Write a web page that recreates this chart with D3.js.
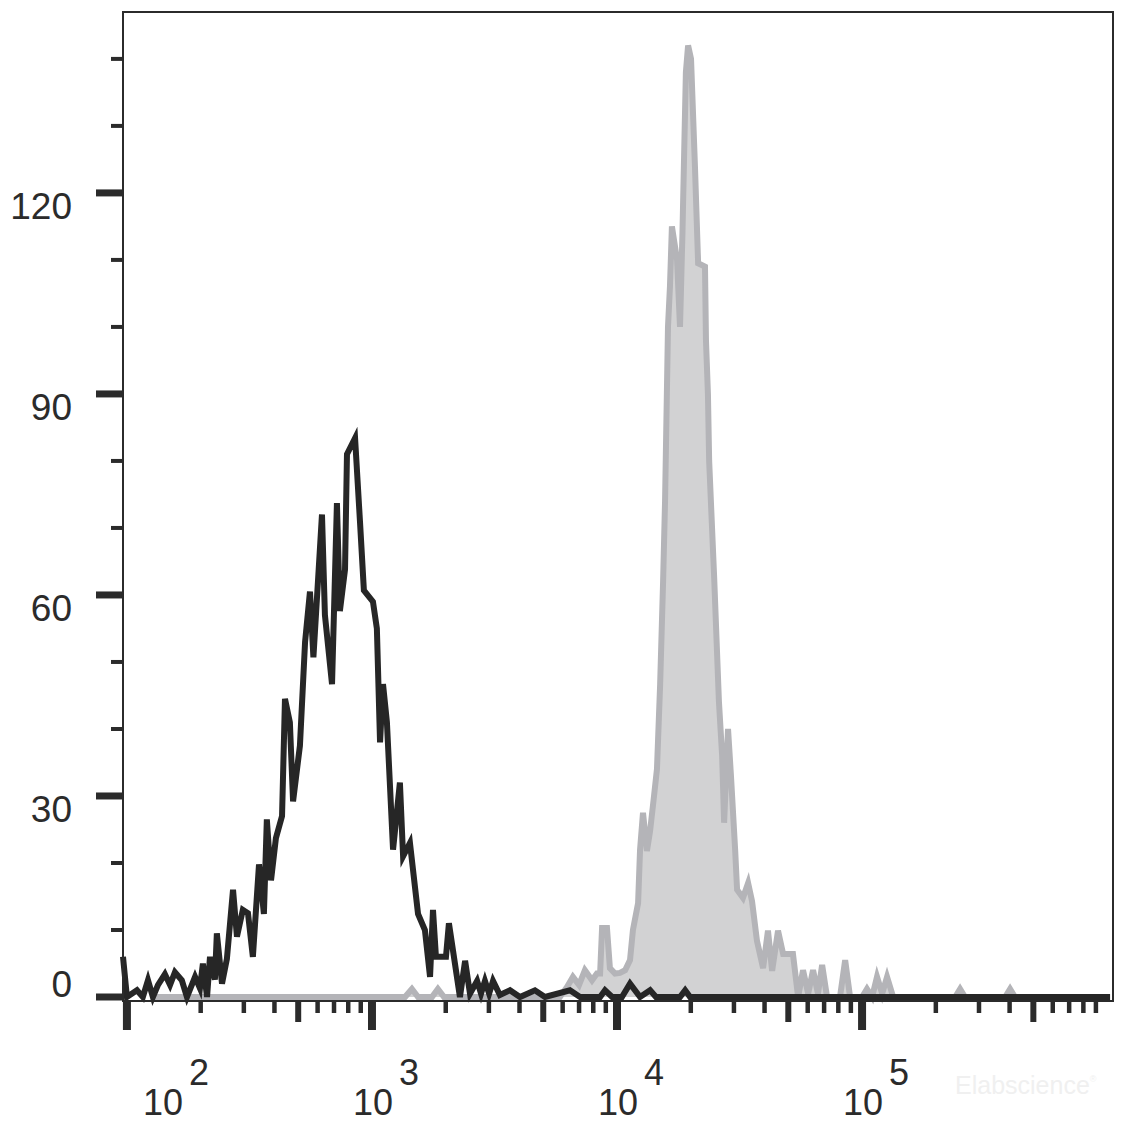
<!DOCTYPE html>
<html>
<head>
<meta charset="utf-8">
<script src="https://cdn.jsdelivr.net/npm/d3@7/dist/d3.min.js"></script>
<style>
  html, body { margin: 0; padding: 0; background: #ffffff; }
  svg { display: block; }
</style>
</head>
<body>
<svg id="chart" width="1134" height="1126"></svg>
<script>
// ---- Data (x as log10 of fluorescence intensity, y as cell count) ----
const negLog = [1.984, 2.000, 2.041, 2.065, 2.086, 2.106, 2.127, 2.155, 2.176, 2.196, 2.224, 2.245,
  2.278, 2.298, 2.310, 2.327, 2.339, 2.359, 2.367, 2.388, 2.408, 2.433, 2.449, 2.473, 2.494, 2.514,
  2.539, 2.559, 2.571, 2.588, 2.608, 2.633, 2.645, 2.665, 2.678, 2.706, 2.727, 2.747, 2.761, 2.796,
  2.808, 2.837, 2.857, 2.869, 2.890, 2.898, 2.931, 2.951, 2.967, 3.004, 3.020, 3.033, 3.045, 3.061,
  3.086, 3.114, 3.127, 3.155, 3.188, 3.216, 3.237, 3.249, 3.261, 3.302, 3.314, 3.359, 3.380, 3.400,
  3.429, 3.445, 3.461, 3.478, 3.494, 3.522, 3.563, 3.604, 3.665, 3.706, 3.808, 3.849, 3.931, 3.951,
  3.980, 4.020, 4.053, 4.094, 4.135, 4.159, 4.257, 4.278, 4.298, 6.012];
const negCount = [6, 0, 1, 0, 2.5, 0, 1.8, 3.4, 1.8, 3.7, 2.5, 0,
  3, 1.3, 5, 0, 6, 2.6, 9.5, 2, 5.7, 16, 9, 13, 12.5, 6,
  19.8, 12.4, 26.5, 17.4, 23.7, 27, 44.5, 41, 29.2, 37.5, 53, 60.5, 50.7, 72,
  57, 46.7, 73.7, 57.6, 63.8, 81, 83.4, 71, 60.7, 59, 55, 38, 46.7, 41,
  22, 32, 21, 23, 12.4, 10, 3, 13, 6, 6, 11, 0, 5.4, 0.5,
  2.4, 0.5, 2.4, 0.5, 2.4, 0.3, 1, 0, 1, 0, 1, 0, 0, 1,
  0, 0, 2, 0, 1, 0, 0, 1, 0, 0];

const posLog = [2.106, 3.135, 3.163, 3.188, 3.245, 3.269, 3.294, 3.767, 3.796, 3.820, 3.845, 3.869,
  3.898, 3.918, 3.931, 3.939, 3.959, 3.971, 3.992, 4.012, 4.033, 4.053, 4.065, 4.086, 4.094, 4.106,
  4.122, 4.135, 4.151, 4.163, 4.176, 4.188, 4.196, 4.208, 4.216, 4.224, 4.245, 4.257, 4.267, 4.281,
  4.290, 4.302, 4.318, 4.331, 4.359, 4.363, 4.371, 4.376, 4.396, 4.416, 4.429, 4.437, 4.453, 4.465,
  4.482, 4.490, 4.514, 4.535, 4.551, 4.571, 4.596, 4.616, 4.633, 4.657, 4.678, 4.718, 4.739, 4.759,
  4.780, 4.800, 4.820, 4.837, 4.857, 4.910, 4.931, 4.951, 5.000, 5.020, 5.041, 5.061, 5.082, 5.102,
  5.127, 5.380, 5.400, 5.420, 5.584, 5.604, 5.624, 6.012];
const posCount = [0, 0, 1.2, 0, 0, 1.2, 0, 0, 1.5, 3, 1.8, 4,
  2.5, 3.5, 3.5, 10.3, 10.3, 4.3, 3.5, 3.6, 4, 5.5, 10, 14, 22, 27.5,
  21.8, 24.8, 30, 34, 46.7, 62, 74, 100, 106, 115, 110, 100, 114, 138,
  142, 140, 124, 109.5, 109, 98, 90, 80, 63, 44, 36, 26, 40, 33,
  22, 16, 14.8, 17, 14.3, 8.4, 4.3, 9.9, 3.9, 9.9, 6.4, 6.4, 0, 4,
  0.5, 4, 0.5, 4.8, 0, 0, 5.5, 0, 0, 1.2, 0, 3, 0.5, 3,
  0, 0, 1.2, 0, 0, 1.2, 0, 0];

const yMajorTicks = [0, 30, 60, 90, 120];
const yMinorTicks = [10, 20, 40, 50, 70, 80, 100, 110, 130, 140];
const xDecades = [2, 3, 4, 5];
const xMultipliers = [2, 3, 4, 5, 6, 7, 8, 9];
const watermarkText = "Elabscience";
const watermarkMark = "®";

// ---- Layout ----
const plotLeft = 123, plotRight = 1113, plotTop = 12, plotBottom = 1001;
const ink = "#2b2b2b";
const font = "'Liberation Sans', Arial, Helvetica, sans-serif";

const svg = d3.select("#chart");

const x = d3.scaleLog().domain([Math.pow(10, 1.984), Math.pow(10, 6.024)]).range([plotLeft, plotRight]);
const y = d3.scaleLinear().domain([0, 147]).range([997, plotTop]);

const posData = posLog.map((l, i) => ({ v: Math.pow(10, l), c: posCount[i] }));
const negData = negLog.map((l, i) => ({ v: Math.pow(10, l), c: negCount[i] }));

// Positive (filled grey) histogram
svg.append("path")
  .datum(posData)
  .attr("fill", "#d2d2d3")
  .attr("stroke", "none")
  .attr("d", d3.area().x(d => x(d.v)).y0(y(0)).y1(d => y(d.c)));
svg.append("path")
  .datum(posData)
  .attr("fill", "none")
  .attr("stroke", "#b4b4b8")
  .attr("stroke-width", 6)
  .attr("stroke-linejoin", "miter")
  .attr("d", d3.line().x(d => x(d.v)).y(d => y(d.c)));

// Negative (black outline) histogram
svg.append("path")
  .datum(negData)
  .attr("fill", "none")
  .attr("stroke", "#262626")
  .attr("stroke-width", 6)
  .attr("stroke-linejoin", "miter")
  .attr("d", d3.line().x(d => x(d.v)).y(d => y(d.c)));

// Frame
svg.append("rect")
  .attr("x", plotLeft).attr("y", plotTop)
  .attr("width", plotRight - plotLeft).attr("height", plotBottom - plotTop)
  .attr("fill", "none").attr("stroke", ink).attr("stroke-width", 2);

// Y ticks
svg.selectAll(".ymaj").data(yMajorTicks).enter().append("line")
  .attr("x1", 96).attr("x2", plotLeft)
  .attr("y1", d => y(d)).attr("y2", d => y(d))
  .attr("stroke", ink).attr("stroke-width", 7);
svg.selectAll(".ymin").data(yMinorTicks).enter().append("line")
  .attr("x1", 111).attr("x2", plotLeft)
  .attr("y1", d => y(d)).attr("y2", d => y(d))
  .attr("stroke", ink).attr("stroke-width", 4);
svg.selectAll(".ylab").data(yMajorTicks).enter().append("text")
  .attr("x", 72)
  .attr("y", d => y(d) + (d === 0 ? 0 : 26))
  .attr("text-anchor", "end")
  .attr("font-family", font).attr("font-size", 37)
  .attr("fill", ink)
  .text(d => d);

// X ticks
const xTickData = [];
xDecades.forEach(e => {
  xTickData.push({ v: Math.pow(10, e), kind: "major" });
  xMultipliers.forEach(m => xTickData.push({ v: m * Math.pow(10, e), kind: m === 5 ? "mid" : "minor" }));
});
const tickLen = { major: 29, mid: 21, minor: 12 };
const tickW = { major: 8, mid: 6, minor: 4.5 };
svg.selectAll(".xt").data(xTickData.filter(d => x(d.v) < plotRight - 4)).enter().append("line")
  .attr("x1", d => x(d.v)).attr("x2", d => x(d.v))
  .attr("y1", plotBottom).attr("y2", d => plotBottom + tickLen[d.kind])
  .attr("stroke", ink).attr("stroke-width", d => tickW[d.kind]);

// X labels: 10 with superscript exponent
const xl = svg.selectAll(".xlab").data(xDecades).enter().append("text")
  .attr("x", (d, i) => x(Math.pow(10, d)) + (i === 0 ? 16 : -19))
  .attr("y", 1115)
  .attr("font-family", font).attr("font-size", 36)
  .attr("fill", ink);
xl.append("tspan").text("10");
xl.append("tspan").attr("dx", 6).attr("dy", -30).text(d => d);

// Watermark
const wm = svg.append("text")
  .attr("x", 955).attr("y", 1094)
  .attr("font-family", font).attr("font-size", 25)
  .attr("fill", "#f0f0f0");
wm.append("tspan").text(watermarkText);
wm.append("tspan").attr("font-size", 9).attr("dy", -12).text(watermarkMark);
</script>
</body>
</html>
